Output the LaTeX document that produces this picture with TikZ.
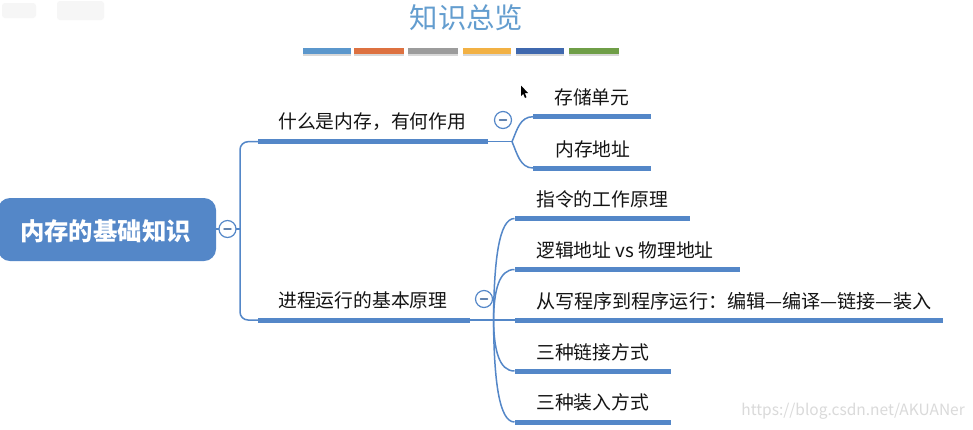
\documentclass[tikz,border=0pt]{standalone}
\usepackage{fontspec}
\setmainfont{Noto Sans CJK SC}
\usetikzlibrary{shadows}
\definecolor{mapblue}{HTML}{5487C8}
\definecolor{titleblue}{HTML}{639DCF}
\definecolor{inkblack}{HTML}{141414}
\definecolor{wmgray}{HTML}{DADADA}
\definecolor{swblue}{HTML}{5B97CC}
\definecolor{sworange}{HTML}{DD7140}
\definecolor{swgray}{HTML}{9C9C9C}
\definecolor{swyellow}{HTML}{F2B144}
\definecolor{swnavy}{HTML}{3F68AE}
\definecolor{swgreen}{HTML}{6F9E47}
\definecolor{ghost}{HTML}{F6F6F6}
\tikzset{
  hbar/.style={rectangle,fill=mapblue,inner sep=0pt,minimum height=5pt,anchor=west},
  swatch/.style={rectangle,inner sep=0pt,minimum height=5.5pt,anchor=west,drop shadow={shadow xshift=0pt,shadow yshift=-2.4pt,opacity=.3}},
  branchlabel/.style={anchor=west,inner sep=0pt,text=inkblack,font=\fontsize{18.8}{20}\selectfont},
  linkline/.style={draw=mapblue,line width=1.5pt},
  collapse/.style={circle,draw=mapblue,line width=1.2pt,fill=white,minimum size=17pt,inner sep=0pt},
  minusbar/.style={draw=mapblue!65!gray,line width=1.4pt,line cap=round}
}
\begin{document}
\begin{tikzpicture}[x=1pt,y=-1pt]
\clip (0,0) rectangle (973,429);
\fill[white] (0,0) rectangle (973,429);
% faint blurred mark, top left
\fill[ghost,rounded corners=3pt] (2,3) rectangle (36,18);
\fill[ghost,rounded corners=3pt] (57,1) rectangle (104,20);
% title
\node[inner sep=0pt,text=titleblue,font=\fontsize{28.4}{30}\selectfont] (title) at (466.5,18) {知识总览};
% colour bars
\node[swatch,fill=swblue,minimum width=48pt] (s1) at (303,51) {};
\node[swatch,fill=sworange,minimum width=50pt] (s2) at (354,51) {};
\node[swatch,fill=swgray,minimum width=50pt] (s3) at (408,51) {};
\node[swatch,fill=swyellow,minimum width=48pt] (s4) at (463,51) {};
\node[swatch,fill=swnavy,minimum width=48pt] (s5) at (516,51) {};
\node[swatch,fill=swgreen,minimum width=50pt] (s6) at (569,51) {};
% root
\node[rectangle,rounded corners=12pt,fill=mapblue,text=white,minimum width=218pt,minimum height=63pt,inner sep=0pt] (root) at (107,229.5) {};
\node[inner sep=0pt,text=white,font=\fontsize{24.4}{26}\selectfont\bfseries] (roottext) at (105.5,231) {内存的基础知识};
% branch bars
\node[hbar,minimum width=230pt] (b1) at (258,141.7) {};
\node[hbar,minimum width=212pt] (b2) at (258,320) {};
\node[branchlabel] (b1t) at (278,122) {什么是内存，有何作用};
\node[branchlabel] (b2t) at (278,300.5) {进程运行的基本原理};
% leaves of branch 1
\node[hbar,minimum width=118pt] (a1) at (533,116.7) {};
\node[hbar,minimum width=118pt] (a2) at (533,168) {};
\node[branchlabel] (a1t) at (554,97) {存储单元};
\node[branchlabel] (a2t) at (555,149) {内存地址};
% leaves of branch 2
\node[hbar,minimum width=175pt] (c1) at (514.5,218.5) {};
\node[hbar,minimum width=225.5pt] (c2) at (514.5,269.5) {};
\node[hbar,minimum width=428pt] (c3) at (514.5,320) {};
\node[hbar,minimum width=156pt] (c4) at (514.5,371) {};
\node[hbar,minimum width=156pt] (c5) at (514.5,422) {};
\node[branchlabel] (c1t) at (536,199) {指令的工作原理};
\node[branchlabel] (c2t) at (536,250) {逻辑地址 vs 物理地址};
\node[branchlabel,font=\fontsize{19.1}{20}\selectfont] (c3t) at (536,301) {从写程序到程序运行：编辑—编译—链接—装入};
\node[branchlabel] (c4t) at (536,352) {三种链接方式};
\node[branchlabel] (c5t) at (536,402) {三种装入方式};
% junctions
\coordinate (rootstub) at (240,229);
\coordinate (j1) at (512,141.7);
\coordinate (j2) at (493.5,320);
% trunk
\draw[linkline] (root.east |- rootstub) -- (rootstub);
\draw[linkline,rounded corners=8pt] (b1.west) -- (240,141.7) -- (240,320) -- (b2.west);
% branch 1
\draw[linkline] (b1.east) -- (j1);
\draw[linkline] (j1) .. controls (517,130) and (520,116.7) .. (a1.west);
\draw[linkline] (j1) .. controls (517,153) and (520,168) .. (a2.west);
% branch 2
\draw[linkline] (b2.east) -- (c3.west);
\draw[linkline] (j2) .. controls (494,260) and (499,218.5) .. (c1.west);
\draw[linkline] (j2) .. controls (494,290) and (499,269.5) .. (c2.west);
\draw[linkline] (j2) .. controls (494,350) and (499,371) .. (c4.west);
\draw[linkline] (j2) .. controls (494,380) and (499,422) .. (c5.west);
% collapse buttons
\node[collapse] (m0) at (227.5,229) {};
\node[collapse] (m1) at (503,120) {};
\node[collapse] (m2) at (484,299) {};
\draw[minusbar] ([xshift=-3.5pt]m0.center) -- ([xshift=3.5pt]m0.center);
\draw[minusbar] ([xshift=-3.5pt]m1.center) -- ([xshift=3.5pt]m1.center);
\draw[minusbar] ([xshift=-3.5pt]m2.center) -- ([xshift=3.5pt]m2.center);
% cursor
\fill[black] (521,85.5) -- (521,96) -- (523.2,93.8) -- (525,98) -- (526.5,97.2) -- (524.8,93.2) -- (528,93) -- cycle;
% watermark
\node[anchor=east,inner sep=0pt,text=wmgray,font=\fontsize{15.5}{17}\selectfont] (wm) at (965,411) {https://blog.csdn.net/AKUANer};
\end{tikzpicture}
\end{document}
